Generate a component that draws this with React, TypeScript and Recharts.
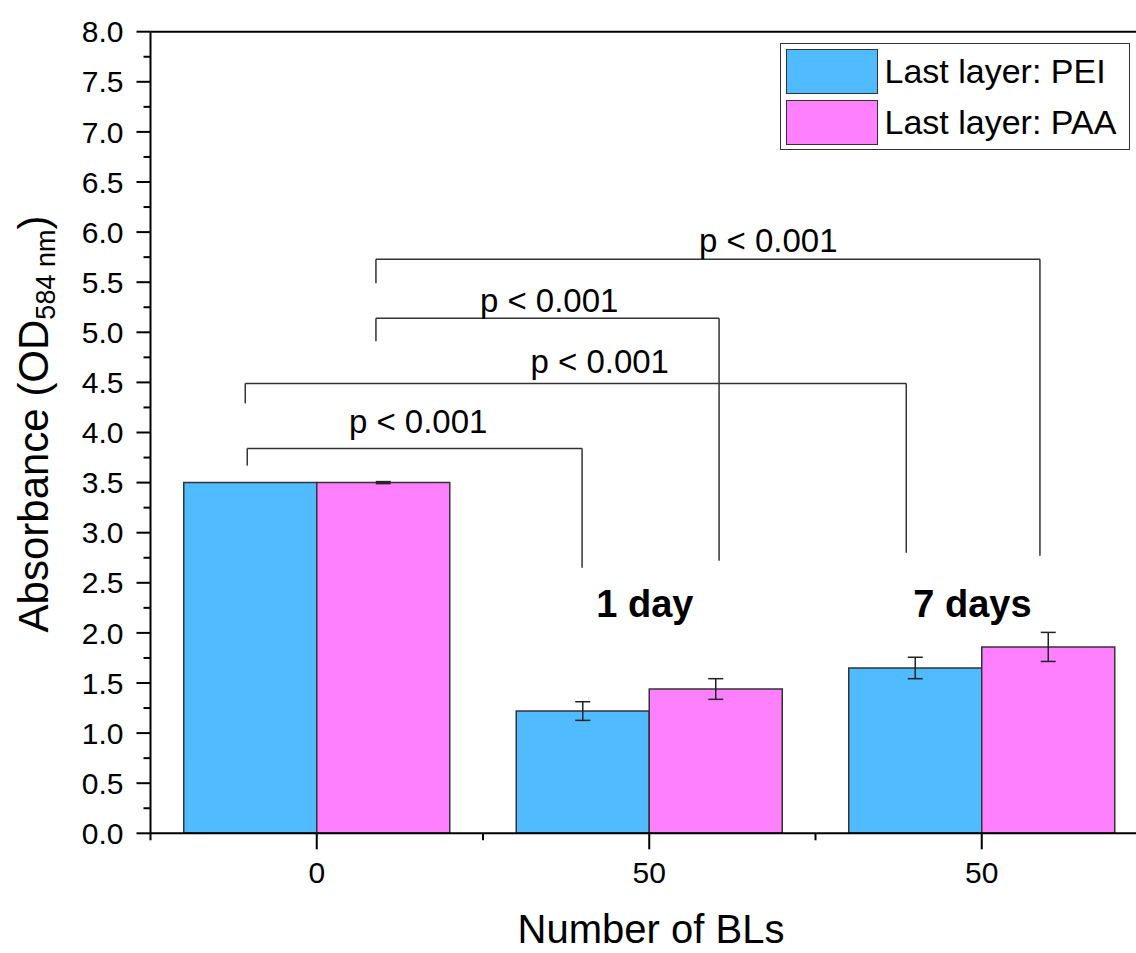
import React from "react";
import {
  BarChart,
  Bar,
  XAxis,
  YAxis,
  ErrorBar,
  ReferenceLine,
  ReferenceDot,
  Legend,
} from "recharts";

// categories on the x axis (ids must be unique, labels repeat)
const groupIds = ["bl0", "bl50_1d", "bl50_7d"];
const groupLabels = ["0", "50", "50"];

// series values
const peiValues = [3.5, 1.22, 1.65];
const peiErrors = [0, 0.093, 0.107];
const paaValues = [3.5, 1.44, 1.86];
const paaErrors = [0.01, 0.103, 0.145];

const seriesNames = ["Last layer: PEI", "Last layer: PAA"];
const seriesColors = ["#50BBFF", "#FF80FF"];

const yMajorTicks = [0, 0.5, 1, 1.5, 2, 2.5, 3, 3.5, 4, 4.5, 5, 5.5, 6, 6.5, 7, 7.5, 8];
const yMinorTicks = [0.25, 0.75, 1.25, 1.75, 2.25, 2.75, 3.25, 3.75, 4.25, 4.75, 5.25, 5.75, 6.25, 6.75, 7.25, 7.75];

// significance brackets, x in category units (group centre = index), y in absorbance
const brackets = [
  { label: "p < 0.001", xl: 0.178, xr: 2.175, y: 5.73, yl: 5.49, yr: 2.77, lx: 1.358, ly: 5.8 },
  { label: "p < 0.001", xl: 0.178, xr: 1.21, y: 5.14, yl: 4.91, yr: 2.72, lx: 0.699, ly: 5.2 },
  { label: "p < 0.001", xl: -0.215, xr: 1.773, y: 4.49, yl: 4.29, yr: 2.8, lx: 0.851, ly: 4.59 },
  { label: "p < 0.001", xl: -0.209, xr: 0.798, y: 3.84, yl: 3.67, yr: 2.65, lx: 0.305, ly: 4.0 },
];

const dayLabels = [
  { text: "1 day", x: 0.987, y: 2.16 },
  { text: "7 days", x: 1.972, y: 2.16 },
];

const FONT = "'Liberation Sans', Arial, sans-serif";
const CHART_W = 1158;
const CHART_H = 953;
const MARGIN = { top: 31.7, right: 10, left: 50.5, bottom: 59.7 };
const Y_AXIS_W = 100;
const PLOT_W = CHART_W - MARGIN.left - MARGIN.right - Y_AXIS_W;
const BAND = PLOT_W / groupIds.length;

const Y_TICK = 14;
const Y_TICK_GAP = 13;
const X_TICK = 16;
const X_TICK_GAP = 12;

const data = groupIds.map((id, i) => ({
  id,
  slot: i,
  pei: peiValues[i],
  peiErr: peiErrors[i],
  paa: paaValues[i],
  paaErr: paaErrors[i],
}));

const yTicks = [...yMajorTicks, ...yMinorTicks].sort((a, b) => a - b);

function renderYTick(props: any) {
  const { x, y, payload } = props;
  const ax = x + Y_TICK + Y_TICK_GAP;
  const major = yMajorTicks.includes(payload.value);
  return (
    <g>
      <line x1={ax - (major ? Y_TICK : 7)} x2={ax} y1={y} y2={y} stroke="#000" strokeWidth={2} />
      {major && (
        <text x={x} y={y} dy="0.355em" textAnchor="end" fontSize={30} fontFamily={FONT} fill="#000">
          {payload.value.toFixed(1)}
        </text>
      )}
    </g>
  );
}

function renderXTick(props: any) {
  const { x, y, index } = props;
  const ay = y - X_TICK - X_TICK_GAP;
  return (
    <g>
      <line x1={x} x2={x} y1={ay} y2={ay + X_TICK} stroke="#000" strokeWidth={2} />
      <line x1={x - BAND / 2} x2={x - BAND / 2} y1={ay} y2={ay + 7} stroke="#000" strokeWidth={2} />
      <text x={x} y={y} dy="0.71em" textAnchor="middle" fontSize={30} fontFamily={FONT} fill="#000">
        {groupLabels[index]}
      </text>
    </g>
  );
}

function renderXTitle() {
  return (
    <text x={651} y={943} textAnchor="middle" fontSize={40} fontFamily={FONT} fill="#000">
      Number of BLs
    </text>
  );
}

function renderYTitle() {
  return (
    <text
      x={48}
      y={424}
      transform="rotate(-90, 48, 424)"
      textAnchor="middle"
      fontSize={42}
      fontFamily={FONT}
      fill="#000"
    >
      Absorbance (OD
      <tspan fontSize={27} dy={7}>
        584 nm
      </tspan>
      <tspan dy={-7}>)</tspan>
    </text>
  );
}

function renderLegend() {
  return (
    <div
      style={{
        boxSizing: "border-box",
        width: 350,
        height: 107,
        border: "1.5px solid #333",
        padding: "4.5px 0 0 4.5px",
        background: "#fff",
        fontFamily: FONT,
      }}
    >
      {seriesNames.map((name, i) => (
        <div key={name} style={{ display: "flex", alignItems: "center", height: 45, marginBottom: 6 }}>
          <div
            style={{
              boxSizing: "border-box",
              width: 92,
              height: 45,
              background: seriesColors[i],
              border: "1.5px solid #333",
            }}
          />
          <span style={{ marginLeft: 7, fontSize: 34, color: "#000", lineHeight: "45px" }}>{name}</span>
        </div>
      ))}
    </div>
  );
}

const bracketLines = brackets.flatMap((b, i) => [
  <ReferenceLine
    key={`bl${i}`}
    xAxisId="num"
    segment={[{ x: b.xl, y: b.yl }, { x: b.xl, y: b.y }]}
    stroke="#333"
    strokeWidth={1.5}
    ifOverflow="visible"
  />,
  <ReferenceLine
    key={`bt${i}`}
    xAxisId="num"
    segment={[{ x: b.xl, y: b.y }, { x: b.xr, y: b.y }]}
    stroke="#333"
    strokeWidth={1.5}
    ifOverflow="visible"
  />,
  <ReferenceLine
    key={`br${i}`}
    xAxisId="num"
    segment={[{ x: b.xr, y: b.y }, { x: b.xr, y: b.yr }]}
    stroke="#333"
    strokeWidth={1.5}
    ifOverflow="visible"
  />,
]);

const bracketLabels = brackets.map((b, i) => (
  <ReferenceDot
    key={`pl${i}`}
    xAxisId="num"
    x={b.lx}
    y={b.ly}
    r={0}
    ifOverflow="visible"
    shape={(p: any) => (
      <text x={p.cx} y={p.cy} textAnchor="middle" fontSize={33} fontFamily={FONT} fill="#000">
        {b.label}
      </text>
    )}
  />
));

const dayTexts = dayLabels.map((d, i) => (
  <ReferenceDot
    key={`dl${i}`}
    xAxisId="num"
    x={d.x}
    y={d.y}
    r={0}
    ifOverflow="visible"
    shape={(p: any) => (
      <text x={p.cx} y={p.cy} textAnchor="middle" fontSize={38} fontWeight="bold" fontFamily={FONT} fill="#000">
        {d.text}
      </text>
    )}
  />
));

export default function App() {
  return (
    <div
      style={{
        position: "absolute",
        left: 0,
        top: 0,
        width: 1136,
        height: 953,
        overflow: "hidden",
        background: "#fff",
        fontFamily: FONT,
      }}
    >
      <BarChart
        width={CHART_W}
        height={CHART_H}
        data={data}
        margin={MARGIN}
        barCategoryGap="10%"
        barGap={0}
      >
        <XAxis
          dataKey="id"
          interval={0}
          height={60}
          tickSize={X_TICK}
          tickMargin={X_TICK_GAP}
          tickLine={false}
          tick={renderXTick}
          axisLine={{ stroke: "#000", strokeWidth: 2 }}
          label={renderXTitle}
        />
        <XAxis xAxisId="num" dataKey="slot" type="number" domain={[-0.5, 2.5]} allowDataOverflow hide />
        <YAxis
          type="number"
          domain={[0, 8]}
          ticks={yTicks}
          interval={0}
          width={Y_AXIS_W}
          tickSize={Y_TICK}
          tickMargin={Y_TICK_GAP}
          tickLine={false}
          tick={renderYTick}
          axisLine={{ stroke: "#000", strokeWidth: 2 }}
          allowDataOverflow
          label={renderYTitle}
        />
        <ReferenceLine y={8} stroke="#000" strokeWidth={2} />
        <Bar dataKey="pei" name={seriesNames[0]} fill={seriesColors[0]} stroke="#333" strokeWidth={1.5} isAnimationActive={false}>
          <ErrorBar dataKey="peiErr" width={7.5} stroke="#222" strokeWidth={1.5} direction="y" isAnimationActive={false} />
        </Bar>
        <Bar dataKey="paa" name={seriesNames[1]} fill={seriesColors[1]} stroke="#333" strokeWidth={1.5} isAnimationActive={false}>
          <ErrorBar dataKey="paaErr" width={7.5} stroke="#222" strokeWidth={1.5} direction="y" isAnimationActive={false} />
        </Bar>
        {bracketLines}
        {bracketLabels}
        {dayTexts}
        <Legend
          content={renderLegend}
          layout="vertical"
          align="center"
          verticalAlign="middle"
          wrapperStyle={{ left: 780, top: 43, width: 350, height: 107 }}
        />
      </BarChart>
    </div>
  );
}
